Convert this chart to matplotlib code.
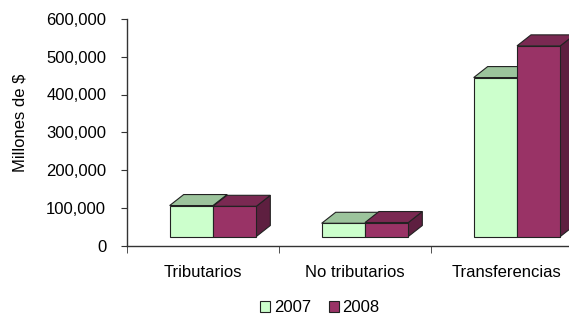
import matplotlib.pyplot as plt
import matplotlib.transforms as mtransforms
from matplotlib.patches import Polygon, Patch
from matplotlib.ticker import FuncFormatter

plt.rcParams['font.family'] = ['Liberation Sans', 'DejaVu Sans']

categories = ["Tributarios", "No tributarios", "Transferencias"]
years = ["2007", "2008"]
values_2007 = [82000, 35000, 421000]
values_2008 = [80000, 37000, 505000]

# front / top / side face colours per series
face_2007 = ("#CCFFCC", "#9CC49C", "#85A885")
face_2008 = ("#993366", "#7A2952", "#5E1F40")

fig = plt.figure(figsize=(5.69, 3.16), dpi=100)
ax = fig.add_axes([127 / 569, 70.5 / 316, 456 / 569, 226.5 / 316])
ax.set_xlim(-0.5, 2.5)
ax.set_ylim(0, 600000)

# the front faces sit a little up/right of the floor edge, depth goes up/right
front = ax.transData + mtransforms.ScaledTranslation(0.10, 0.09, fig.dpi_scale_trans)
inv = ax.transData.inverted()
p0 = ax.transData.transform((0, 0))
ddx, ddy = inv.transform(p0 + [14, 11]) - inv.transform(p0)

width = 0.285
x = list(range(len(categories)))


def bar3d(xc, h, cols):
    l, r = xc - width / 2, xc + width / 2
    side = Polygon([(r, 0), (r + ddx, ddy), (r + ddx, h + ddy), (r, h)],
                   closed=True, facecolor=cols[2], edgecolor="#222222",
                   lw=0.8, transform=front, clip_on=False)
    top = Polygon([(l, h), (l + ddx, h + ddy), (r + ddx, h + ddy), (r, h)],
                  closed=True, facecolor=cols[1], edgecolor="#222222",
                  lw=0.8, transform=front, clip_on=False)
    ax.add_patch(side)
    ax.add_patch(top)
    ax.bar(xc, h, width, color=cols[0], edgecolor="#222222", lw=0.8,
           transform=front, clip_on=False)


for i in x:
    bar3d(x[i] - width / 2, values_2007[i], face_2007)
    bar3d(x[i] + width / 2, values_2008[i], face_2008)

for s in ["top", "right"]:
    ax.spines[s].set_visible(False)
for s in ["left", "bottom"]:
    ax.spines[s].set_color("#333333")
    ax.spines[s].set_linewidth(1.0)

ax.set_yticks(range(0, 600001, 100000))
ax.yaxis.set_major_formatter(FuncFormatter(lambda v, p: f"{int(v):,}"))
ax.tick_params(axis="y", direction="out", length=4, pad=11, labelsize=12,
               color="#333333")
ax.set_xticks(x)
ax.set_xticklabels(categories)
ax.set_xticks([-0.5, 0.5, 1.5, 2.5], minor=True)
ax.tick_params(axis="x", which="major", length=0, pad=14, labelsize=12)
ax.tick_params(axis="x", which="minor", direction="out", length=5,
               color="#333333")
ax.get_xticklabels()[2].set_x(1.96)

ax.set_ylabel("Millones de $", fontsize=12)
ax.yaxis.set_label_coords(-0.218, 0.543)

handles = [Patch(facecolor=face_2007[0], edgecolor="#222222", lw=0.8),
           Patch(facecolor=face_2008[0], edgecolor="#222222", lw=0.8)]
fig.legend(handles, years, loc="center", bbox_to_anchor=(320 / 569, 1 - 308 / 316),
           ncol=2, frameon=False, fontsize=12, handlelength=0.6,
           handleheight=0.6, handletextpad=0.2, columnspacing=1.1)

fig.savefig("out.png", dpi=100)
